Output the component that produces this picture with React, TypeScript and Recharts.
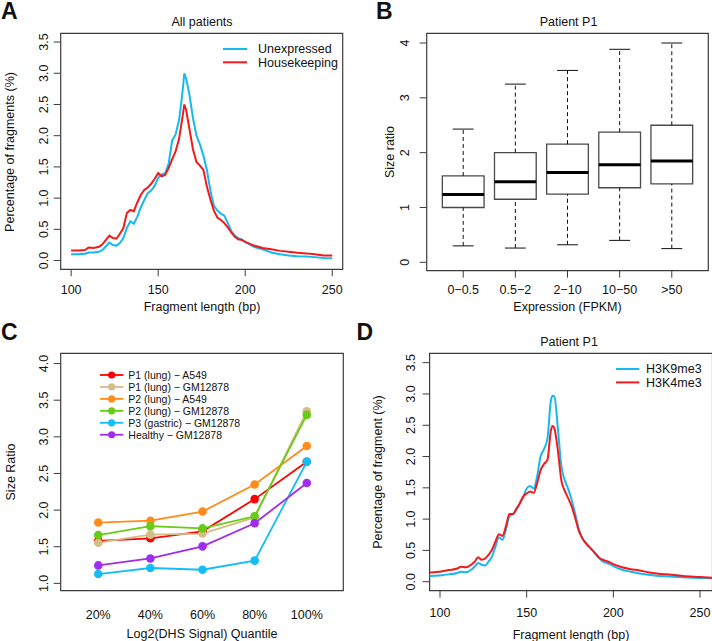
import React from 'react';
import { LineChart, Line, ComposedChart, XAxis, YAxis, ReferenceArea, ReferenceLine, Legend } from 'recharts';

const FONT = "'Liberation Sans', Arial, Helvetica, sans-serif";
const INK = '#111111';
const FRAME = '#3c3c3c';
const BLUE = '#16B8F3';
const RED = '#F21A1A';
const FS = 12.5;

// ---------- Panel A: All patients ----------
const bpA = [100, 104, 108, 110, 113, 116, 118, 120, 122, 124, 126, 128, 130, 132, 134, 136, 138, 140, 142, 144, 146, 148, 150, 152, 154, 156, 158, 160, 162, 164, 165, 166, 168, 170, 172, 174, 176, 178, 180, 182, 184, 186, 188, 190, 192, 194, 196, 198, 200, 205, 210, 215, 220, 225, 230, 235, 240, 245, 250];
const unexpressedA = [0.10, 0.10, 0.11, 0.13, 0.13, 0.14, 0.17, 0.23, 0.29, 0.25, 0.24, 0.28, 0.36, 0.52, 0.63, 0.59, 0.70, 0.85, 0.97, 1.08, 1.12, 1.20, 1.32, 1.38, 1.40, 1.55, 1.92, 2.02, 2.25, 2.70, 3.00, 2.92, 2.65, 2.28, 2.00, 1.86, 1.68, 1.45, 1.12, 0.88, 0.80, 0.75, 0.72, 0.60, 0.47, 0.40, 0.36, 0.34, 0.30, 0.22, 0.18, 0.13, 0.10, 0.08, 0.07, 0.065, 0.055, 0.04, 0.035];
const housekeepingA = [0.16, 0.16, 0.17, 0.21, 0.20, 0.22, 0.26, 0.33, 0.40, 0.36, 0.35, 0.43, 0.52, 0.76, 0.81, 0.79, 0.93, 1.05, 1.13, 1.17, 1.23, 1.31, 1.40, 1.35, 1.37, 1.48, 1.62, 1.75, 1.95, 2.30, 2.50, 2.42, 2.10, 1.78, 1.58, 1.52, 1.45, 1.18, 0.98, 0.80, 0.69, 0.65, 0.60, 0.53, 0.45, 0.38, 0.34, 0.33, 0.30, 0.24, 0.20, 0.18, 0.155, 0.14, 0.125, 0.115, 0.10, 0.08, 0.08];
const ticksA_x = [100, 150, 200, 250];
const ticksA_y = [0, 0.5, 1, 1.5, 2, 2.5, 3, 3.5];

// ---------- Panel B: Patient P1 boxplot ----------
const exprCats = ['0\u22120.5', '0.5\u22122', '2\u221210', '10\u221250', '>50'];
const boxMin = [0.30, 0.26, 0.32, 0.40, 0.25];
const boxQ1 = [1.00, 1.15, 1.245, 1.36, 1.43];
const boxMed = [1.235, 1.47, 1.64, 1.78, 1.85];
const boxQ3 = [1.575, 2.00, 2.155, 2.375, 2.50];
const boxMax = [2.43, 3.25, 3.50, 3.885, 4.00];
const ticksB_y = [0, 1, 2, 3, 4];

// ---------- Panel C: DHS quantiles ----------
const quantiles = ['20%', '40%', '60%', '80%', '100%'];
const p1LungA549 = [1.58, 1.615, 1.71, 2.15, 2.66];
const p1LungGM12878 = [1.555, 1.665, 1.68, 1.90, 3.35];
const p2LungA549 = [1.83, 1.855, 1.98, 2.35, 2.875];
const p2LungGM12878 = [1.66, 1.78, 1.75, 1.915, 3.30];
const p3GastricGM12878 = [1.127, 1.21, 1.186, 1.31, 2.66];
const healthyGM12878 = [1.245, 1.34, 1.505, 1.82, 2.37];
const ticksC_y = [1, 1.5, 2, 2.5, 3, 3.5, 4];

// ---------- Panel D: Patient P1 histone marks ----------
const bpD = [90, 95, 100, 105, 110, 112, 115, 118, 120, 122, 124, 126, 128, 130, 132, 134, 136, 138, 140, 142, 144, 146, 148, 150, 152, 154, 156, 158, 160, 162, 164, 165, 166, 168, 170, 172, 174, 176, 178, 180, 182, 184, 186, 188, 190, 192, 194, 196, 198, 200, 205, 210, 215, 220, 225, 230, 240, 250, 260];
const h3k9me3D = [0.09, 0.09, 0.10, 0.117, 0.14, 0.16, 0.15, 0.19, 0.24, 0.30, 0.27, 0.26, 0.32, 0.40, 0.56, 0.71, 0.67, 0.83, 1.04, 1.08, 1.15, 1.25, 1.36, 1.49, 1.53, 1.49, 1.68, 2.00, 2.12, 2.29, 2.90, 2.97, 2.96, 2.45, 1.85, 1.62, 1.48, 1.30, 1.08, 0.85, 0.70, 0.62, 0.56, 0.50, 0.43, 0.37, 0.32, 0.30, 0.28, 0.25, 0.19, 0.16, 0.13, 0.11, 0.095, 0.085, 0.07, 0.06, 0.05];
const h3k4me3D = [0.145, 0.145, 0.16, 0.186, 0.21, 0.24, 0.23, 0.27, 0.32, 0.39, 0.35, 0.37, 0.43, 0.51, 0.64, 0.76, 0.73, 0.88, 1.08, 1.08, 1.16, 1.25, 1.36, 1.41, 1.44, 1.42, 1.57, 1.78, 1.88, 1.95, 2.42, 2.49, 2.45, 2.10, 1.62, 1.45, 1.33, 1.20, 1.02, 0.82, 0.70, 0.62, 0.56, 0.50, 0.44, 0.38, 0.35, 0.33, 0.31, 0.28, 0.23, 0.20, 0.18, 0.15, 0.13, 0.12, 0.09, 0.075, 0.06];

// ---------- derived tables ----------
const dataA = bpA.map((bp, i) => ({ bp, unexpressed: unexpressedA[i], housekeeping: housekeepingA[i] }));
const dataD = bpD.map((bp, i) => ({ bp, h3k9: h3k9me3D[i], h3k4: h3k4me3D[i] }));
const dataB = exprCats.map((cat, i) => ({ pos: i + 1, cat, min: boxMin[i], q1: boxQ1[i], med: boxMed[i], q3: boxQ3[i], max: boxMax[i] }));
const seriesC = [
  { key: 'p1A', name: 'P1 (lung) \u2212 A549', color: '#FF0000', values: p1LungA549 },
  { key: 'p1G', name: 'P1 (lung) \u2212 GM12878', color: '#D6BC85', values: p1LungGM12878 },
  { key: 'p2A', name: 'P2 (lung) \u2212 A549', color: '#FF8C1A', values: p2LungA549 },
  { key: 'p2G', name: 'P2 (lung) \u2212 GM12878', color: '#66CC14', values: p2LungGM12878 },
  { key: 'p3G', name: 'P3 (gastric) \u2212 GM12878', color: '#14BDF5', values: p3GastricGM12878 },
  { key: 'hG', name: 'Healthy \u2212 GM12878', color: '#A02CF0', values: healthyGM12878 },
];
const dataC = quantiles.map((q, i) => {
  const row: any = { pos: i + 1, q };
  seriesC.forEach((s) => { row[s.key] = s.values[i]; });
  return row;
});

const RotTick = (props: any) => {
  const { x, y, payload, digits } = props;
  const label = Number(payload.value).toFixed(digits);
  return (
    <text x={x} y={y} transform={`rotate(-90 ${x} ${y})`} textAnchor="middle" fontSize={FS} fill={INK}>
      {label}
    </text>
  );
};

const makeLegend = (o: any) => (props: any) => {
  const raw = (props.payload || []).slice();
  const items = raw.sort((a: any, b: any) => o.order.indexOf(a.value) - o.order.indexOf(b.value));
  return (
    <svg width={o.w} height={o.top * 2 + o.row * items.length} style={{ display: 'block', overflow: 'visible' }}>
      {items.map((it: any, i: number) => {
        const cy = o.top + i * o.row;
        return (
          <g key={i}>
            <line x1={0} x2={o.lineLen} y1={cy} y2={cy} stroke={it.color} strokeWidth={o.lw} />
            {o.dot ? <circle cx={o.lineLen / 2} cy={cy} r={o.dot} fill={it.color} /> : null}
            <text x={o.textX} y={cy + o.base} fontSize={o.fs} fill={INK}>{it.value}</text>
          </g>
        );
      })}
    </svg>
  );
};

const legendA = makeLegend({ order: ['Unexpressed', 'Housekeeping'], w: 130, top: 7, row: 13.3, lineLen: 24, lw: 2, textX: 35, base: 4.4, fs: FS });
const legendD = makeLegend({ order: ['H3K9me3', 'H3K4me3'], w: 100, top: 7, row: 13.4, lineLen: 23.3, lw: 2, textX: 30, base: 4.4, fs: FS });
const legendC = makeLegend({ order: seriesC.map((s) => s.name), w: 140, top: 6, row: 11.95, lineLen: 23.3, lw: 1.8, dot: 3.6, textX: 28.3, base: 3.8, fs: 10.5 });

const xTick = { fontSize: FS, fill: INK };

export default function App() {
  return (
    <div style={{ position: 'absolute', left: 0, top: 0, width: 712, height: 641, overflow: 'hidden', background: '#fff', fontFamily: FONT }}>
      {/* Panel A */}
      <div style={{ position: 'absolute', left: 0, top: 0 }}>
        <LineChart width={356} height={320} data={dataA} margin={{ top: 33.3, right: 13.3, bottom: 20.7, left: 20.7 }}>
          <XAxis dataKey="bp" type="number" domain={[94, 256]} ticks={ticksA_x} allowDataOverflow interval={0} height={30}
            axisLine={false} stroke={FRAME} tickSize={7} tickMargin={8.7} tick={xTick} />
          <YAxis type="number" domain={[-0.14, 3.64]} ticks={ticksA_y} allowDataOverflow interval={0} width={40}
            axisLine={false} stroke={FRAME} tickSize={7} tickMargin={5.4} tick={(p: any) => <RotTick {...p} digits={1} />} />
          <ReferenceArea x1={94} x2={256} y1={-0.14} y2={3.64} fill="none" stroke={FRAME} strokeWidth={1.2} ifOverflow="visible" />
          <Line type="linear" dataKey="unexpressed" name="Unexpressed" stroke={BLUE} strokeWidth={2} dot={false} isAnimationActive={false} />
          <Line type="linear" dataKey="housekeeping" name="Housekeeping" stroke={RED} strokeWidth={2} dot={false} isAnimationActive={false} />
          <Legend layout="horizontal" verticalAlign="middle" align="center" content={legendA}
            wrapperStyle={{ position: 'absolute', left: 223, top: 42, width: 130, height: 40 }} />
        </LineChart>
      </div>

      {/* Panel B */}
      <div style={{ position: 'absolute', left: 356, top: 0 }}>
        <ComposedChart width={356} height={320} data={dataB} margin={{ top: 33.3, right: 3.7, bottom: 19.3, left: 30.7 }}>
          <XAxis dataKey="pos" type="number" domain={[0.3, 5.7]} ticks={[1, 2, 3, 4, 5]} allowDataOverflow interval={0} height={30}
            axisLine={false} stroke={FRAME} tickSize={7} tickMargin={7.3} tick={xTick}
            tickFormatter={(v: number) => exprCats[v - 1]} />
          <YAxis type="number" domain={[-0.153, 4.177]} ticks={ticksB_y} allowDataOverflow interval={0} width={40}
            axisLine={false} stroke={FRAME} tickSize={7} tickMargin={10.2} tick={(p: any) => <RotTick {...p} digits={0} />} />
          <ReferenceArea x1={0.3} x2={5.7} y1={-0.153} y2={4.177} fill="none" stroke={FRAME} strokeWidth={1.2} ifOverflow="visible" />
          {dataB.map((d) => (
            <ReferenceLine key={`wu${d.pos}`} segment={[{ x: d.pos, y: d.q3 }, { x: d.pos, y: d.max }]} stroke="#111" strokeDasharray="4 3" strokeWidth={1} />
          ))}
          {dataB.map((d) => (
            <ReferenceLine key={`wl${d.pos}`} segment={[{ x: d.pos, y: d.min }, { x: d.pos, y: d.q1 }]} stroke="#111" strokeDasharray="4 3" strokeWidth={1} />
          ))}
          {dataB.map((d) => (
            <ReferenceLine key={`cu${d.pos}`} segment={[{ x: d.pos - 0.2, y: d.max }, { x: d.pos + 0.2, y: d.max }]} stroke="#111" strokeWidth={1} />
          ))}
          {dataB.map((d) => (
            <ReferenceLine key={`cl${d.pos}`} segment={[{ x: d.pos - 0.2, y: d.min }, { x: d.pos + 0.2, y: d.min }]} stroke="#111" strokeWidth={1} />
          ))}
          {dataB.map((d) => (
            <ReferenceArea key={`bx${d.pos}`} x1={d.pos - 0.4} x2={d.pos + 0.4} y1={d.q1} y2={d.q3} fill="#ffffff" fillOpacity={1} stroke="#4a4a4a" strokeWidth={1.3} />
          ))}
          {dataB.map((d) => (
            <ReferenceLine key={`md${d.pos}`} segment={[{ x: d.pos - 0.4, y: d.med }, { x: d.pos + 0.4, y: d.med }]} stroke="#000" strokeWidth={3} />
          ))}
          <Line dataKey="med" stroke="none" dot={false} activeDot={false} legendType="none" isAnimationActive={false} />
        </ComposedChart>
      </div>

      {/* Panel C */}
      <div style={{ position: 'absolute', left: 0, top: 320 }}>
        <LineChart width={356} height={321} data={dataC} margin={{ top: 33.3, right: 12.7, bottom: 20.3, left: 20.7 }}>
          <XAxis dataKey="pos" type="number" domain={[0.28, 5.7]} ticks={[1, 2, 3, 4, 5]} allowDataOverflow interval={0} height={30}
            axisLine={false} tickLine={false} tickSize={0} tickMargin={19.3} tick={xTick}
            tickFormatter={(v: number) => quantiles[v - 1]} />
          <YAxis type="number" domain={[0.9, 4.14]} ticks={ticksC_y} allowDataOverflow interval={0} width={40}
            axisLine={false} stroke={FRAME} tickSize={7} tickMargin={5.4} tick={(p: any) => <RotTick {...p} digits={1} />} />
          <ReferenceArea x1={0.28} x2={5.7} y1={0.9} y2={4.14} fill="none" stroke={FRAME} strokeWidth={1.2} ifOverflow="visible" />
          {seriesC.map((s) => (
            <Line key={s.key} type="linear" dataKey={s.key} name={s.name} stroke={s.color} strokeWidth={1.8}
              dot={{ r: 4.3, fill: s.color, stroke: 'none' }} activeDot={false} isAnimationActive={false} />
          ))}
          <Legend layout="horizontal" verticalAlign="middle" align="center" content={legendC}
            wrapperStyle={{ position: 'absolute', left: 100, top: 49, width: 140, height: 80 }} />
        </LineChart>
      </div>

      {/* Panel D */}
      <div style={{ position: 'absolute', left: 356, top: 320 }}>
        <LineChart width={362} height={321} data={dataD} margin={{ top: 33.3, right: 5.5, bottom: 20.3, left: 33.6 }}>
          <XAxis dataKey="bp" type="number" domain={[94, 257.2]} ticks={ticksA_x} allowDataOverflow interval={0} height={30}
            axisLine={false} stroke={FRAME} tickSize={7} tickMargin={10.6} tick={xTick} />
          <YAxis type="number" domain={[-0.144, 3.65]} ticks={ticksA_y} allowDataOverflow interval={0} width={40}
            axisLine={false} stroke={FRAME} tickSize={7} tickMargin={7.4} tick={(p: any) => <RotTick {...p} digits={1} />} />
          <ReferenceArea x1={94} x2={257.2} y1={-0.144} y2={3.65} fill="none" stroke={FRAME} strokeWidth={1.2} ifOverflow="visible" />
          <Line type="monotone" dataKey="h3k9" name="H3K9me3" stroke={BLUE} strokeWidth={2} dot={false} isAnimationActive={false} />
          <Line type="monotone" dataKey="h3k4" name="H3K4me3" stroke={RED} strokeWidth={2} dot={false} isAnimationActive={false} />
          <Legend layout="horizontal" verticalAlign="middle" align="center" content={legendD}
            wrapperStyle={{ position: 'absolute', left: 260, top: 42.3, width: 100, height: 40 }} />
        </LineChart>
      </div>

      {/* Titles, axis labels, panel letters */}
      <svg width={712} height={641} style={{ position: 'absolute', left: 0, top: 0, pointerEvents: 'none' }}>
        <g fill={INK} fontSize={23} fontWeight="bold">
          <text x={1} y={19}>A</text>
          <text x={376} y={18.5}>B</text>
          <text x={1} y={340}>C</text>
          <text x={356.5} y={339.5}>D</text>
        </g>
        <g fill={INK} fontSize={FS} textAnchor="middle">
          <text x={202} y={26}>All patients</text>
          <text x={568.5} y={26}>Patient P1</text>
          <text x={569} y={346}>Patient P1</text>
          <text x={202} y={311}>Fragment length (bp)</text>
          <text x={567.5} y={311}>Expression (FPKM)</text>
          <text x={202} y={637.5}>Log2(DHS Signal) Quantile</text>
          <text x={571} y={639}>Fragment length (bp)</text>
          <text x={13.5} y={152} transform="rotate(-90 13.5 152)">Percentage of fragments (%)</text>
          <text x={394} y={152} transform="rotate(-90 394 152)">Size ratio</text>
          <text x={15} y={472} transform="rotate(-90 15 472)">Size Ratio</text>
          <text x={382} y={472} transform="rotate(-90 382 472)">Percentage of fragment (%)</text>
        </g>
      </svg>
    </div>
  );
}
